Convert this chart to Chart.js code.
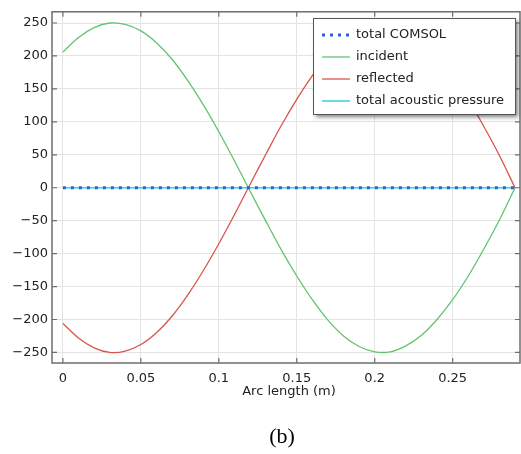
<!DOCTYPE html>
<html>
<head>
<meta charset="utf-8">
<script src="https://cdn.jsdelivr.net/npm/chart.js@4"></script>
<style>
html,body{margin:0;padding:0;background:#fff;}
#wrap{width:521px;height:454px;position:relative;}
</style>
</head>
<body>
<div id="wrap"><canvas id="c" width="521" height="454"></canvas></div>
<script>
const arcLength = [0,0.01,0.02,0.03,0.04,0.05,0.06,0.07,0.08,0.09,0.10,0.11,0.12,0.13,0.14,0.15,0.16,0.17,0.18,0.19,0.20,0.21,0.22,0.23,0.24,0.25,0.26,0.27,0.28,0.29];
const incident = [206,228,243,250,248,238,220,195,163,126,85,41,-5,-50,-94,-134,-170,-201,-225,-241,-249,-249,-240,-224,-200,-170,-134,-93,-49,0];
const reflected = [-206,-228,-243,-250,-248,-238,-220,-195,-163,-126,-85,-41,5,50,94,134,170,201,225,241,249,249,240,224,200,170,134,93,49,0];
const totalComsol = [0,0,0,0,0,0,0,0,0,0,0,0,0,0,0,0,0,0,0,0,0,0,0,0,0,0,0,0,0,0];
const totalAcoustic = [0,0,0,0,0,0,0,0,0,0,0,0,0,0,0,0,0,0,0,0,0,0,0,0,0,0,0,0,0,0];
const xTicks = [0,0.05,0.1,0.15,0.2,0.25];
const yTicks = [-250,-200,-150,-100,-50,0,50,100,150,200,250];
const seriesNames = ['total COMSOL','incident','reflected','total acoustic pressure'];
const xTitle = 'Arc length (m)';
const caption = '(b)';

const pts = (ys) => arcLength.map((x,i)=>({x:x,y:ys[i]}));
const FONT = "'DejaVu Sans', sans-serif";

const frameTicks = {
  id:'frameTicks',
  afterDraw(chart){
    const {ctx, chartArea:a, scales:{x,y}} = chart;
    ctx.save();
    ctx.strokeStyle = '#6e6e6e';
    ctx.lineWidth = 1.5;
    ctx.strokeRect(a.left, a.top, a.right-a.left, a.bottom-a.top);
    ctx.lineWidth = 1.2;
    ctx.beginPath();
    xTicks.forEach(v=>{
      const p = x.getPixelForValue(v);
      ctx.moveTo(p,a.bottom); ctx.lineTo(p,a.bottom-5);
      ctx.moveTo(p,a.top); ctx.lineTo(p,a.top+5);
    });
    yTicks.forEach(v=>{
      const p = y.getPixelForValue(v);
      ctx.moveTo(a.left,p); ctx.lineTo(a.left+5,p);
      ctx.moveTo(a.right,p); ctx.lineTo(a.right-5,p);
    });
    ctx.stroke();

    // legend
    const lx=313, ly=18, lw=202, lh=96;
    ctx.save();
    ctx.shadowColor='rgba(0,0,0,0.5)';
    ctx.shadowBlur=4; ctx.shadowOffsetX=3; ctx.shadowOffsetY=3;
    ctx.fillStyle='#fff';
    ctx.fillRect(lx,ly,lw,lh);
    ctx.restore();
    ctx.strokeStyle='#555'; ctx.lineWidth=1;
    ctx.strokeRect(lx+0.5,ly+0.5,lw,lh);
    const ds = chart.data.datasets;
    ctx.font = "13px "+FONT;
    ctx.textBaseline='middle';
    ctx.fillStyle='#222';
    ds.forEach((d,i)=>{
      const yy = 35 + i*22;
      ctx.save();
      ctx.strokeStyle=d.borderColor;
      ctx.lineWidth = d.borderWidth;
      ctx.setLineDash(d.borderDash||[]);
      ctx.beginPath(); ctx.moveTo(322,yy); ctx.lineTo(350,yy); ctx.stroke();
      ctx.restore();
      ctx.fillText(d.label,356,yy);
    });
    // axis title and caption
    ctx.textAlign='center';
    ctx.fillStyle='#222';
    ctx.font="13px "+FONT;
    ctx.fillText(xTitle, 289, 392);
    ctx.font="22px 'Liberation Serif', 'Times New Roman', serif";
    ctx.fillStyle='#000';
    ctx.fillText(caption, 282, 437);
    ctx.restore();
  }
};

new Chart(document.getElementById('c'), {
  type:'line',
  data:{
    datasets:[
      {label:seriesNames[0], data:pts(totalComsol), borderColor:'#2a62d8', borderWidth:3, borderDash:[3,5], pointRadius:0, fill:false},
      {label:seriesNames[1], data:pts(incident), borderColor:'#62c46e', borderWidth:1.3, pointRadius:0, tension:0.35, fill:false},
      {label:seriesNames[2], data:pts(reflected), borderColor:'#d8554e', borderWidth:1.3, pointRadius:0, tension:0.35, fill:false},
      {label:seriesNames[3], data:pts(totalAcoustic), borderColor:'#3ccbe0', borderWidth:1.5, pointRadius:0, fill:false}
    ]
  },
  options:{
    responsive:false,
    animation:false,
    layout:{padding:{top:7,right:1,left:0,bottom:0}},
    plugins:{legend:{display:false}, tooltip:{enabled:false}},
    scales:{
      x:{
        type:'linear', min:-0.007, max:0.2932,
        afterBuildTicks(s){ s.ticks = xTicks.map(v=>({value:v})); },
        afterFit(s){ s.height = 91; },
        grid:{color:'#e4e4e4', drawTicks:false},
        border:{display:false},
        ticks:{padding:8, color:'#222', font:{family:FONT, size:13}, maxRotation:0, autoSkip:false,
          callback:(v)=>String(v)}
      },
      y:{
        type:'linear', min:-266, max:267,
        afterBuildTicks(s){ s.ticks = yTicks.map(v=>({value:v})); },
        afterFit(s){ s.width = 52; },
        grid:{color:'#e4e4e4', drawTicks:false},
        border:{display:false},
        ticks:{padding:4, color:'#222', font:{family:FONT, size:13},
          callback:(v)=>String(v).replace('-','\u2212')}
      }
    }
  },
  plugins:[frameTicks]
});
</script>
</body>
</html>
